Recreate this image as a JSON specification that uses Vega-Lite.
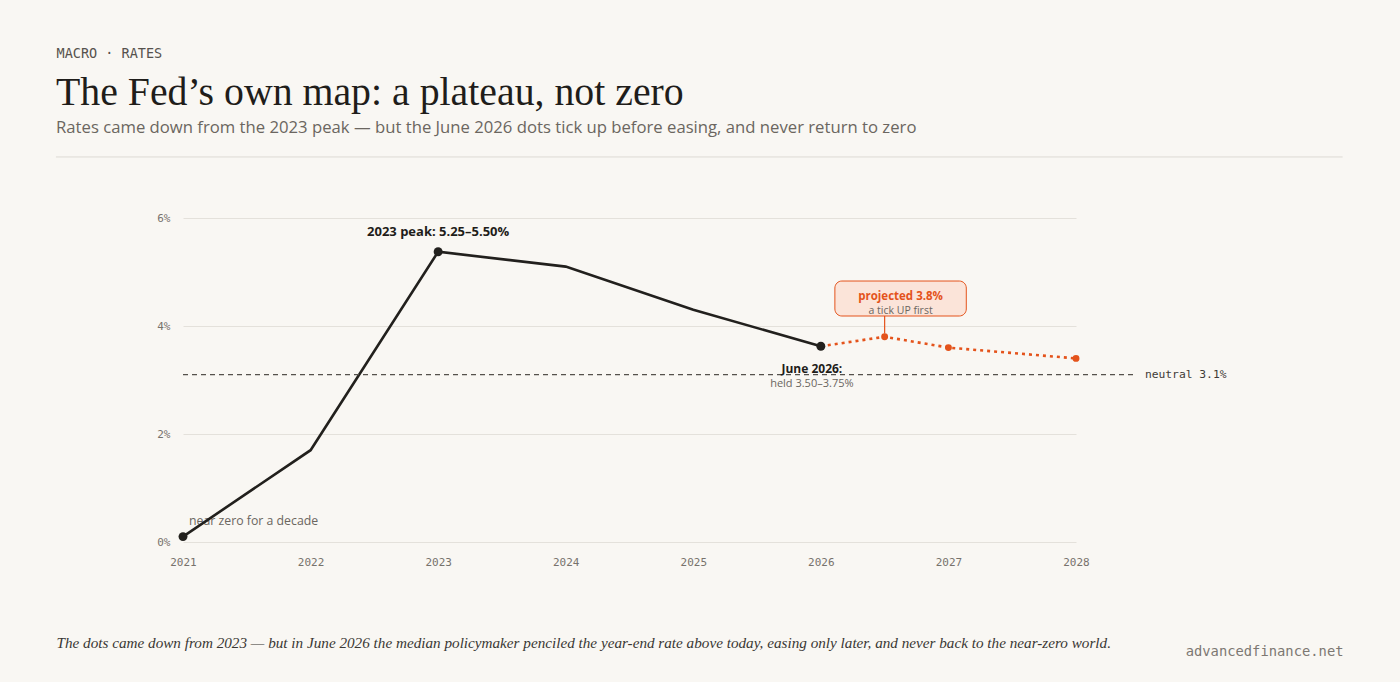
{
  "$schema": "https://vega.github.io/schema/vega-lite/v6.json",
  "width": 893,
  "height": 324,
  "autosize": {"type": "none"},
  "padding": {"left": 183, "top": 218, "right": 324, "bottom": 140},
  "background": "#f9f7f3",
  "config": {"view": {"stroke": null}},
  "title": {
    "text": "The Fed’s own map: a plateau, not zero",
    "subtitle": "Rates came down from the 2023 peak — but the June 2026 dots tick up before easing, and never return to zero",
    "anchor": "start",
    "frame": "group",
    "dx": -127,
    "offset": -92,
    "font": "Liberation Serif",
    "fontSize": 39.8,
    "fontWeight": "normal",
    "color": "#1f1d1a",
    "subtitleFont": "Open Sans",
    "subtitleFontSize": 16.7,
    "subtitleColor": "#6b6660",
    "subtitlePadding": 7
  },
  "datasets": {
    "actual": [
      {"year": 2021, "rate": 0.1},
      {"year": 2022, "rate": 1.7},
      {"year": 2023, "rate": 5.375},
      {"year": 2024, "rate": 5.1},
      {"year": 2025, "rate": 4.3},
      {"year": 2026, "rate": 3.625}
    ],
    "projection": [
      {"year": 2026, "rate": 3.625},
      {"year": 2026.5, "rate": 3.8},
      {"year": 2027, "rate": 3.6},
      {"year": 2028, "rate": 3.4}
    ],
    "milestones": [
      {"year": 2021, "rate": 0.1, "label": "near zero for a decade"},
      {"year": 2023, "rate": 5.375, "label": "2023 peak: 5.25–5.50%"},
      {"year": 2026, "rate": 3.625, "label": "June 2026:", "sub": "held 3.50–3.75%"}
    ]
  },
  "resolve": {"axis": {"y": "independent"}},
  "layer": [
    {
      "data": {"name": "milestones"},
      "transform": [{"filter": "datum.year == 2021"}],
      "mark": {"type": "text", "align": "left", "baseline": "middle", "dx": 6, "dy": -16, "font": "Open Sans", "fontSize": 12.3, "color": "#6b6660"},
      "encoding": {
        "x": {
          "field": "year", "type": "quantitative",
          "scale": {"domain": [2021, 2028], "nice": false, "zero": false},
          "axis": {
            "values": [2021, 2022, 2023, 2024, 2025, 2026, 2027, 2028],
            "format": "d",
            "labelFont": "DejaVu Sans Mono", "labelFontSize": 11, "labelColor": "#77726c",
            "labelFlush": false, "labelOverlap": false,
            "labelPadding": 14, "ticks": false, "domain": false, "grid": false,
            "title": "The dots came down from 2023 — but in June 2026 the median policymaker penciled the year-end rate above today, easing only later, and never back to the near-zero world.",
            "titleFont": "Liberation Serif", "titleFontStyle": "italic", "titleFontWeight": "normal",
            "titleFontSize": 15.2, "titleColor": "#3a3733",
            "titleX": -127, "titleY": 100, "titleAlign": "left", "titleBaseline": "middle", "titleAngle": 0
          }
        },
        "y": {
          "field": "rate", "type": "quantitative",
          "scale": {"domain": [0, 6], "nice": false, "zero": false},
          "axis": {
            "orient": "left",
            "values": [0, 2, 4, 6],
            "labelExpr": "datum.value + '%'",
            "labelFont": "DejaVu Sans Mono", "labelFontSize": 11, "labelColor": "#77726c",
            "labelPadding": 13, "ticks": false, "domain": false,
            "grid": true, "gridColor": "#e4e1db", "gridWidth": 1,
            "title": "MACRO · RATES",
            "titleFont": "DejaVu Sans Mono", "titleFontSize": 13.5, "titleFontWeight": "normal", "titleColor": "#56524d",
            "titleAngle": 0, "titleX": -127, "titleY": -165, "titleAlign": "left", "titleBaseline": "middle"
          }
        },
        "text": {"field": "label"}
      }
    },
    {
      "data": {"name": "actual"},
      "mark": {"type": "line", "color": "#22201d", "strokeWidth": 2.6},
      "encoding": {
        "x": {"field": "year", "type": "quantitative"},
        "y": {"field": "rate", "type": "quantitative", "axis": null}
      }
    },
    {
      "data": {"values": [{}]},
      "mark": {"type": "rule", "color": "#dedad4", "strokeWidth": 1},
      "encoding": {
        "x": {"datum": 2020.004, "type": "quantitative"},
        "x2": {"datum": 2030.09},
        "y": {"datum": 7.13, "type": "quantitative", "axis": null}
      }
    },
    {
      "data": {"values": [{}]},
      "mark": {"type": "rule", "color": "#55514c", "strokeWidth": 1.2, "strokeDash": [5, 4]},
      "encoding": {
        "x": {"datum": 2021, "type": "quantitative"},
        "x2": {"datum": 2028.46},
        "y": {
          "datum": 3.1, "type": "quantitative",
          "axis": {
            "orient": "right", "labels": false, "ticks": false, "domain": false, "grid": false,
            "title": "advancedfinance.net",
            "titleFont": "DejaVu Sans Mono", "titleFontSize": 13.8, "titleFontWeight": "normal", "titleColor": "#7d7872",
            "titleAngle": 0, "titleX": 267, "titleY": 433, "titleAlign": "right", "titleBaseline": "middle"
          }
        }
      }
    },
    {
      "data": {"values": [{}]},
      "mark": {"type": "text", "align": "left", "baseline": "middle", "font": "DejaVu Sans Mono", "fontSize": 11.3, "color": "#3f3b37", "text": "neutral 3.1%"},
      "encoding": {
        "x": {"datum": 2028.54, "type": "quantitative"},
        "y": {"datum": 3.1, "type": "quantitative", "axis": null}
      }
    },
    {
      "data": {"name": "projection"},
      "mark": {"type": "line", "color": "#e4531b", "strokeWidth": 2.6, "strokeDash": [3, 4]},
      "encoding": {
        "x": {"field": "year", "type": "quantitative"},
        "y": {"field": "rate", "type": "quantitative", "axis": null}
      }
    },
    {
      "data": {"values": [{}]},
      "mark": {"type": "rule", "color": "#e4531b", "strokeWidth": 1.2},
      "encoding": {
        "x": {"datum": 2026.5, "type": "quantitative"},
        "y": {"datum": 3.86, "type": "quantitative", "axis": null},
        "y2": {"datum": 4.185}
      }
    },
    {
      "data": {"values": [{}]},
      "mark": {"type": "rect", "fill": "#fbe4d9", "stroke": "#e4531b", "strokeWidth": 1, "cornerRadius": 7},
      "encoding": {
        "x": {"datum": 2026.11, "type": "quantitative"},
        "x2": {"datum": 2027.14},
        "y": {"datum": 4.833, "type": "quantitative", "axis": null},
        "y2": {"datum": 4.185}
      }
    },
    {
      "data": {"values": [{}]},
      "mark": {"type": "text", "align": "center", "baseline": "middle", "font": "Open Sans", "fontSize": 11.5, "fontWeight": "bold", "color": "#e4531b", "text": "projected 3.8%"},
      "encoding": {
        "x": {"datum": 2026.625, "type": "quantitative"},
        "y": {"datum": 4.537, "type": "quantitative", "axis": null}
      }
    },
    {
      "data": {"values": [{}]},
      "mark": {"type": "text", "align": "center", "baseline": "middle", "font": "Open Sans", "fontSize": 10.5, "color": "#6b6660", "text": "a tick UP first"},
      "encoding": {
        "x": {"datum": 2026.625, "type": "quantitative"},
        "y": {"datum": 4.285, "type": "quantitative", "axis": null}
      }
    },
    {
      "data": {"name": "milestones"},
      "mark": {"type": "circle", "size": 80, "color": "#22201d", "opacity": 1},
      "encoding": {
        "x": {"field": "year", "type": "quantitative"},
        "y": {"field": "rate", "type": "quantitative", "axis": null}
      }
    },
    {
      "data": {"name": "projection"},
      "transform": [{"filter": "datum.year > 2026"}],
      "mark": {"type": "circle", "size": 48, "color": "#e4531b", "opacity": 1},
      "encoding": {
        "x": {"field": "year", "type": "quantitative"},
        "y": {"field": "rate", "type": "quantitative", "axis": null}
      }
    },
    {
      "data": {"name": "milestones"},
      "transform": [{"filter": "datum.year == 2023"}],
      "mark": {"type": "text", "align": "center", "baseline": "middle", "dy": -20, "font": "Open Sans", "fontSize": 13, "fontWeight": "bold", "color": "#1f1d1a"},
      "encoding": {
        "x": {"field": "year", "type": "quantitative"},
        "y": {"field": "rate", "type": "quantitative", "axis": null},
        "text": {"field": "label"}
      }
    },
    {
      "data": {"name": "milestones"},
      "transform": [{"filter": "datum.year == 2026"}],
      "mark": {"type": "text", "align": "center", "baseline": "middle", "dx": -9, "dy": 23, "font": "Open Sans", "fontSize": 12, "fontWeight": "bold", "color": "#1f1d1a"},
      "encoding": {
        "x": {"field": "year", "type": "quantitative"},
        "y": {"field": "rate", "type": "quantitative", "axis": null},
        "text": {"field": "label"}
      }
    },
    {
      "data": {"name": "milestones"},
      "transform": [{"filter": "datum.year == 2026"}],
      "mark": {"type": "text", "align": "center", "baseline": "middle", "dx": -9, "dy": 38, "font": "Open Sans", "fontSize": 11, "color": "#6b6660"},
      "encoding": {
        "x": {"field": "year", "type": "quantitative"},
        "y": {"field": "rate", "type": "quantitative", "axis": null},
        "text": {"field": "sub"}
      }
    }
  ]
}
